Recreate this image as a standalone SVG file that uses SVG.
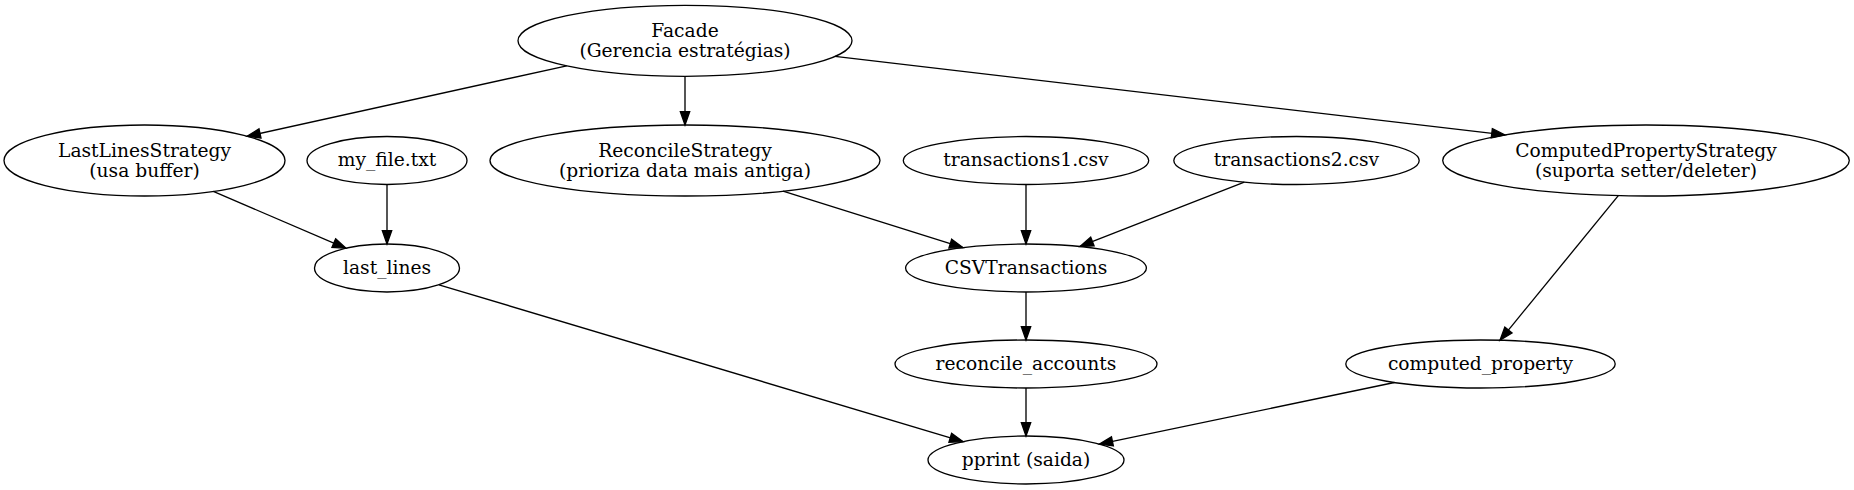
<svg xmlns="http://www.w3.org/2000/svg" width="1854" height="490" viewBox="0 0 1854 490">
<style>
.n ellipse{fill:none;stroke:#000;stroke-width:1.33}
.n text{font-family:"DejaVu Serif",serif;font-size:18.67px;text-anchor:middle;fill:#000}
.e line{stroke:#000;stroke-width:1.33;marker-end:url(#ah)}
</style>
<defs>
<marker id="ah" markerUnits="userSpaceOnUse" markerWidth="16" markerHeight="12" refX="13.3" refY="4.67" orient="auto" overflow="visible">
<path d="M0,0 L13.3,4.67 L0,9.33 Z" fill="#000" stroke="#000" stroke-width="1.33"/>
</marker>
</defs>
<rect width="1854" height="490" fill="#fff"/>
<g id="edges" class="e">
<line x1="566.7" y1="65.8" x2="247" y2="136.3"/>
<line x1="685" y1="76.3" x2="685" y2="125"/>
<line x1="835" y1="56.4" x2="1505" y2="134.9"/>
<line x1="213.3" y1="191.4" x2="346" y2="248.3"/>
<line x1="387" y1="184.5" x2="387" y2="244"/>
<line x1="783" y1="191.2" x2="963" y2="247.6"/>
<line x1="1026" y1="184.5" x2="1026" y2="244"/>
<line x1="1244.3" y1="182.2" x2="1080" y2="246.4"/>
<line x1="1618.3" y1="195.7" x2="1500" y2="340.3"/>
<line x1="1026" y1="292" x2="1026" y2="340"/>
<line x1="439" y1="284.8" x2="963" y2="441.6"/>
<line x1="1026" y1="388" x2="1026" y2="436"/>
<line x1="1394.4" y1="382.5" x2="1099.4" y2="444.1"/>
</g>
<g id="facade" class="n"><ellipse cx="685" cy="40.8" rx="167" ry="35.5"/><text x="685" y="36.5">Facade</text><text x="685" y="56.5">(Gerencia estratégias)</text></g>
<g id="lastlinesstrategy" class="n"><ellipse cx="144.5" cy="160.5" rx="140.5" ry="35.5"/><text x="144.5" y="156.5">LastLinesStrategy</text><text x="144.5" y="176.5">(usa buffer)</text></g>
<g id="my_file" class="n"><ellipse cx="387" cy="160.5" rx="80" ry="24"/><text x="387" y="166">my_file.txt</text></g>
<g id="reconcilestrategy" class="n"><ellipse cx="685" cy="160.5" rx="195" ry="35.5"/><text x="685" y="156.5">ReconcileStrategy</text><text x="685" y="176.5">(prioriza data mais antiga)</text></g>
<g id="transactions1" class="n"><ellipse cx="1026" cy="160.5" rx="122.7" ry="24"/><text x="1026" y="166">transactions1.csv</text></g>
<g id="transactions2" class="n"><ellipse cx="1296.5" cy="160.5" rx="122.7" ry="24"/><text x="1296.5" y="166">transactions2.csv</text></g>
<g id="computedpropertystrategy" class="n"><ellipse cx="1646" cy="160.5" rx="203.3" ry="35.5"/><text x="1646" y="156.5">ComputedPropertyStrategy</text><text x="1646" y="176.5">(suporta setter/deleter)</text></g>
<g id="last_lines" class="n"><ellipse cx="387" cy="268" rx="72.5" ry="24"/><text x="387" y="273.5">last_lines</text></g>
<g id="csvtransactions" class="n"><ellipse cx="1026" cy="268" rx="120.4" ry="24"/><text x="1026" y="273.5">CSVTransactions</text></g>
<g id="reconcile_accounts" class="n"><ellipse cx="1026" cy="364" rx="131" ry="24"/><text x="1026" y="369.5">reconcile_accounts</text></g>
<g id="computed_property" class="n"><ellipse cx="1480.5" cy="364" rx="134.7" ry="24"/><text x="1480.5" y="369.5">computed_property</text></g>
<g id="pprint" class="n"><ellipse cx="1026" cy="460" rx="98" ry="24"/><text x="1026" y="465.5">pprint (saida)</text></g>
</svg>
